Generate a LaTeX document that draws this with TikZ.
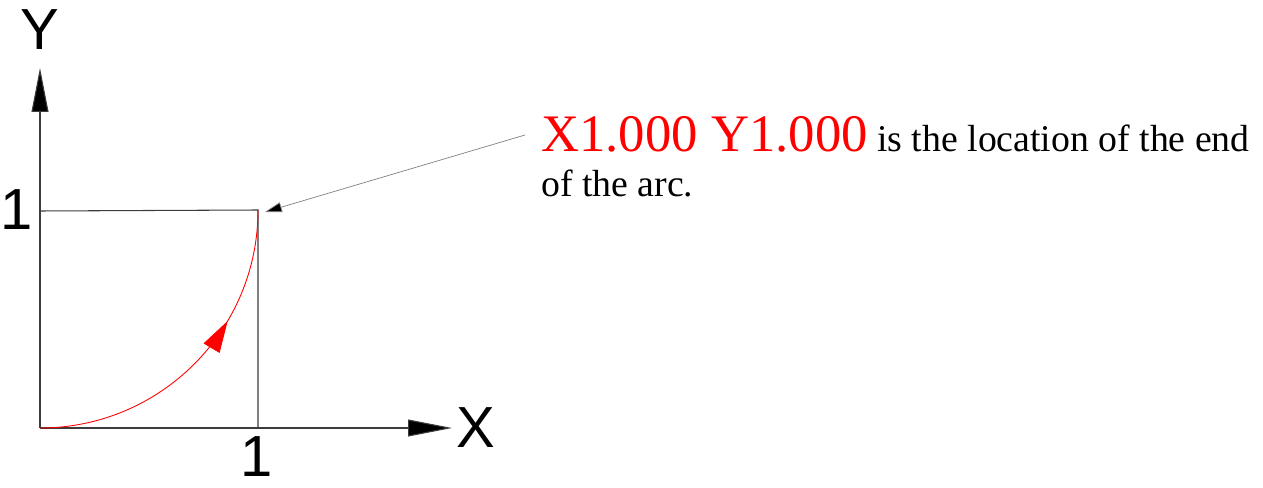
\documentclass[tikz,border=0pt]{standalone}
\usepackage{xcolor}
\usepackage{fontspec}
\usetikzlibrary{arrows.meta,decorations.markings}
\setmainfont{Liberation Serif}
\newfontfamily\axisfont{Liberation Sans}
\definecolor{axisgray}{RGB}{60, 60, 60}
\definecolor{leadergray}{RGB}{128, 128, 128}
\definecolor{arcred}{RGB}{255, 0, 0}

\begin{document}
\begin{tikzpicture}[
  x=0.02cm, y=0.02cm,
  axis/.style={draw=axisgray, line width=0.6pt, -{Triangle[length=25pt, width=9.6pt, fill=black]}},
  guide/.style={draw=axisgray, line width=0.6pt},
  leader/.style={draw=leadergray, line width=0.4pt, -{Triangle[length=9.6pt, width=5.7pt, fill=black]}},
  arcpath/.style={draw=arcred, line width=0.5pt, postaction={decorate},
    decoration={markings, mark=at position 0.66 with {\arrow[arcred]{Triangle[length=18pt, width=10.5pt]}}}},
  axislabel/.style={font=\axisfont\fontsize{33}{36}\selectfont, inner sep=0pt},
  note/.style={anchor=base west, inner sep=0pt, font=\fontsize{21.5}{25}\selectfont}
]
  \useasboundingbox (0,0) rectangle (1263,487);

  \coordinate (origin) at (40,59);
  \coordinate (ytip) at (40,419);
  \coordinate (xtip) at (452,59);
  \coordinate (ytick) at (40,276);
  \coordinate (xtick) at (258,59);
  \coordinate (arcend) at (258,277);
  \coordinate (leaderstart) at (525,352);
  \coordinate (leadertip) at (265,275);

  \node[axislabel] (ylabel) at (40,457) {Y};
  \node[axislabel] (xlabel) at (476,59) {X};
  \node[axislabel] (yone) at (17,277) {1};
  \node[axislabel] (xone) at (257,30) {1};

  \node[note] (endnote) at (541,335) {{\fontsize{30}{32}\selectfont\color{arcred}X1.000 Y1.000} is the location of the end};
  \node[note] (endnote2) at (541,290) {of the arc.};

  \draw[axis] (origin) -- (ytip);
  \draw[axis] (origin) -- (xtip);
  \draw[guide] (ytick) -- (arcend) -- (xtick);
  \draw[arcpath] (origin) arc[start angle=-90, end angle=0, radius=218];
  \draw[leader] (leaderstart) -- (leadertip);
\end{tikzpicture}
\end{document}
